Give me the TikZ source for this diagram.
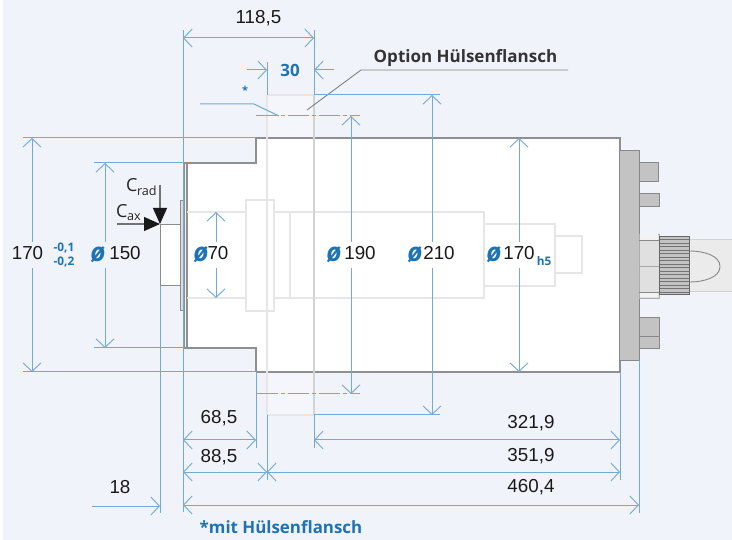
\documentclass[tikz,border=0pt]{standalone}
\usepackage{fontspec}
\setmainfont{Liberation Sans}
\newfontfamily\lab{Open Sans}
\usetikzlibrary{arrows.meta}
\definecolor{bgc}{HTML}{F1F3FA}
\definecolor{dimc}{HTML}{72AAD5}
\definecolor{txtb}{HTML}{1E73B4}
\definecolor{bodyl}{HTML}{8F8F8F}
\definecolor{lightl}{HTML}{E6E6E6}
\definecolor{midl}{HTML}{D2D2D2}
\definecolor{discf}{HTML}{C3C3C3}
\definecolor{discl}{HTML}{888888}
\tikzset{
 x=1pt,y=-1pt,
 dimline/.style={draw=dimc,line width=1pt},
 dimarrow/.style={dimline,arrows={Straight Barb[length=8.5pt,width=18pt,line width=.9pt]-Straight Barb[length=8.5pt,width=18pt,line width=.9pt]}},
 dimto/.style={dimline,arrows={-Straight Barb[length=8.5pt,width=18pt,line width=.9pt]}},
 dimfrom/.style={dimline,arrows={Straight Barb[length=8.5pt,width=18pt,line width=.9pt]-}},
 housing/.style={draw=bodyl,line width=1.1pt},
 shaftl/.style={draw=lightl,line width=1.1pt},
 flangel/.style={draw=midl,line width=1.6pt},
 partg/.style={fill=discf,draw=discl,line width=.9pt},
 num/.style={inner sep=0pt,font=\fontsize{18.8}{20}\selectfont,text=black!90},
 blab/.style={inner sep=0pt,font=\lab\bfseries\fontsize{16.9}{18}\selectfont,text=txtb},
 dia/.style={inner sep=0pt,font=\lab\bfseries\itshape\fontsize{26}{26}\selectfont,text=txtb},
 cforce/.style={draw=black!55,line width=1.2pt,arrows={-{Triangle[length=16pt,width=14pt,color=black!90]}}},
 clab/.style={inner sep=0pt,font=\lab\fontsize{18}{18}\selectfont,text=black!85},
 tolb/.style={inner sep=0pt,font=\lab\bfseries\fontsize{11.8}{12}\selectfont,text=txtb},
}
\begin{document}
\begin{tikzpicture}
\useasboundingbox (0,0) rectangle (732,540);
\fill[bgc] (3,0) rectangle (732,540);
\fill[white] (0,0) rectangle (3,540);
% flange sleeve pale area
\fill[white!25!bgc] (267,95) rectangle (314,415);
% bodies
\fill[white] (256,138) rectangle (620,372);
\fill[white] (187,163) rectangle (256,348);
\fill[white] (160,225) rectangle (180,286);
% housing outline
\draw[housing] (256,372) -- (620,372) -- (620,138) -- (256,138) -- (256,163) -- (184,163) -- (184,348) -- (256,348) -- (256,372);
\draw[housing] (187,163) -- (187,348);
\draw[housing,fill=lightl!70!discf,line width=.9pt] (180,200) rectangle (184,310);
\draw[draw=black!45,line width=1pt] (180,225) -- (160,225) -- (160,286) -- (180,286);
% shaft and inner contour
\draw[shaftl] (187,212) -- (484,212) -- (484,298) -- (187,298);
\draw[shaftl] (484,224) -- (555,224) -- (555,286) -- (484,286);
\draw[shaftl] (555,236) -- (582,236) -- (582,273) -- (555,273);
\draw[shaftl] (290,212) -- (290,298);
\draw[shaftl,fill=white] (246,200) rectangle (274,311);
% sleeve flange contour
\draw[shaftl,line width=1.6pt] (267,95) -- (314,95);
\draw[shaftl,line width=1.6pt] (267,415) -- (314,415);
\draw[flangel,draw=lightl] (267,95) -- (267,415);
\draw[flangel] (314,95) -- (314,415);
% rear parts
\draw[partg] (619,150) rectangle (639,360);
\draw[partg] (639,162) rectangle (658,181);
\draw[partg] (639,193) rectangle (659,206);
\draw[partg] (639,317) rectangle (659,348);
\draw[discl,line width=.9pt] (639,336) -- (659,336);
\draw[fill=white!92!black,draw=midl,line width=1pt] (689,240) -- (732,240) -- (732,292) -- (689,292);
\draw[draw=discl,line width=.9pt] (689,251) .. controls (705,251) and (720,256) .. (720,266.5) .. controls (720,277) and (705,282) .. (689,282);
\draw[fill=white!88!black,draw=discl!70,line width=.9pt] (639,234) rectangle (659,298);
\fill[white!95!black] (640,234.5) rectangle (658,240);
\fill[white!95!black] (640,292) rectangle (658,297.5);
\draw[midl!80!black,line width=1pt] (639,267) -- (659,267);
\draw[discl,line width=.6pt] (639,240) -- (659,240) (639,292) -- (659,292);
\fill[discf] (659,237) rectangle (689,295);
\foreach \yy in {239.5,243,246.5,250,253.5,257,260.5,264,267.5,271,274.5,278,281.5,285,288.5,292}
  \draw[black!55,line width=.8pt] (659,\yy) -- (689,\yy);
\draw[black!60,line width=1pt] (659,237) rectangle (689,295);
% leader for option
\draw[draw=black!50,line width=.9pt] (307,110) -- (361,70) -- (568,70);
% extension and dimension lines
\draw[dimline] (183,30) -- (183,512);
\draw[dimline] (314,30) -- (314,95) -- (440,95);
\draw[dimline] (267,62) -- (267,95);
\draw[dimline] (256,372) -- (256,448);
\draw[dimline] (23,138) -- (256,138);
\draw[dimline] (23,372) -- (256,372);
\draw[dimline] (94,163) -- (184,163);
\draw[dimline] (94,348) -- (184,348);
\draw[dimline] (160,286) -- (160,513);
\draw[dimline] (267,415) -- (267,480);
\draw[dimline] (314,415) -- (314,448);
\draw[dimline] (314,415) -- (440,415);
\draw[dimline] (620,372) -- (620,480);
\draw[dimline] (639,360) -- (639,513);
\foreach \yy in {116,394} {
  \draw[dimline] (256,\yy) -- (278,\yy) (281,\yy) -- (285,\yy) (288,\yy) -- (309,\yy) (312,\yy) -- (316,\yy) (319,\yy) -- (340,\yy) (343,\yy) -- (347,\yy) (350,\yy) -- (360,\yy);
}
\draw[dimline] (200,104) -- (254,104) -- (279,116);
% arrows
\draw[dimarrow] (183,38) -- (314,38);
\draw[dimto] (247,70) -- (267,70);
\draw[dimto] (334,70) -- (314,70);
\draw[dimfrom] (32,138) -- (32,242);
\draw[dimto] (32,268) -- (32,372);
\draw[dimfrom] (105,163) -- (105,242);
\draw[dimto] (105,268) -- (105,348);
\draw[dimfrom] (216,212) -- (216,242);
\draw[dimto] (216,268) -- (216,298);
\draw[dimfrom] (351,116) -- (351,242);
\draw[dimto] (351,268) -- (351,394);
\draw[dimfrom] (432,95) -- (432,242);
\draw[dimto] (432,268) -- (432,415);
\draw[dimfrom] (519,138) -- (519,242);
\draw[dimto] (519,268) -- (519,372);
\draw[dimarrow] (183,440) -- (256,440);
\draw[dimarrow] (314,440) -- (620,440);
\draw[dimarrow] (183,472) -- (267,472);
\draw[dimarrow] (267,472) -- (620,472);
\draw[dimarrow] (183,505) -- (639,505);
\draw[dimto] (92,506) -- (160,506);
% forces
\draw[cforce] (160,185) -- (160,224);
\draw[cforce] (117,224) -- (160,224);
% labels
\node[num] (t1185) at (258.5,18) {118,5};
\node[blab] (t30) at (290,70) {30};
\node[blab,font=\lab\bfseries\fontsize{11}{12}\selectfont] (tstar) at (245,90) {*};
\node[inner sep=0pt,font=\lab\bfseries\fontsize{17}{18}\selectfont,text=black!80] (topt) at (465.5,58) {Option Hülsenflansch};
\node[num] (t170) at (27.5,253) {170};
\node[tolb] (ttolu) at (64,248) {-0,1};
\node[tolb] (ttold) at (64,262) {-0,2};
\node[dia] (d150) at (98,255) {ø};
\node[num] (t150) at (125,253) {150};
\node[dia] (d70) at (201,255) {ø};
\node[num] (t70) at (218,253) {70};
\node[dia] (d190) at (334,255) {ø};
\node[num] (t190) at (360,253) {190};
\node[dia] (d210) at (415,255) {ø};
\node[num] (t210) at (439,253) {210};
\node[dia] (d170) at (494,255) {ø};
\node[num] (t170b) at (519,253) {170};
\node[tolb] (th5) at (544,261) {h5};
\node[clab,anchor=base west] (tcrad) at (126,192) {C\textsubscript{\kern-.5pt rad}};
\node[clab,anchor=base west] (tcax) at (116,218) {C\textsubscript{\kern-.5pt ax}};
\node[num] (t685) at (219,418) {68,5};
\node[num] (t885) at (219,457) {88,5};
\node[num] (t18) at (120,487) {18};
\node[num] (t3219) at (531,423) {321,9};
\node[num] (t3519) at (531,456) {351,9};
\node[num] (t4604) at (531,487) {460,4};
\node[blab] (tmit) at (281,527) {*mit Hülsenflansch};
\end{tikzpicture}
\end{document}
